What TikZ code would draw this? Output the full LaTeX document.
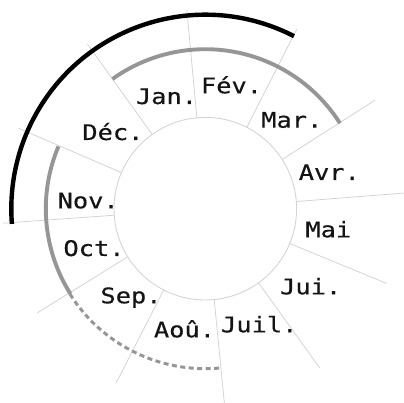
\documentclass[tikz,border=0pt]{standalone}
\usepackage{fontspec}
\usepackage{graphicx}
\usetikzlibrary{calc}
\newfontfamily\monolab[FakeBold=0.4]{DejaVu Sans Mono}
\newcommand\mlab[1]{\scalebox{1.18}[1]{#1}}
\definecolor{spokegray}{RGB}{212,212,212}
\definecolor{arcgray}{RGB}{150,150,150}
\definecolor{labelink}{RGB}{20,20,20}
\tikzset{
  spoke/.style={draw=spokegray, line width=0.8pt},
  hub/.style={draw=spokegray, line width=0.9pt},
  spanblack/.style={draw=black, line width=4.4pt},
  spangray/.style={draw=arcgray, line width=3.9pt},
  spandash/.style={draw=arcgray, line width=3pt, dash pattern=on 5pt off 3.5pt},
  month/.style={anchor=base, inner sep=0pt, text=labelink, font=\monolab\fontsize{21.5}{21.5}\selectfont},
}
\begin{document}
\begin{tikzpicture}[x=1pt,y=1pt]
\useasboundingbox (-205.3,-194.3) rectangle (198.7,208.7);
\coordinate (c) at (0,0);
% hub circle
\draw[hub] (c) circle[radius=91.3];
% spokes (angle / outer radius)
\foreach \a/\r in {95.3/199.6, 63.0/201.3, 32.6/201.5, 4.5/200, -22.4/196.1, -54.3/196.5,
                   -84.4/198, -117.1/196.1, -148.2/197.6, -175.9/202.5, 156.7/203.5, 125.6/202.6}
  \draw[spoke] ($(c)+(\a:91.3)$) -- ($(c)+(\a:\r)$);
% spans
\draw[spanblack] ($(c)+(62.8:194)$) arc[start angle=62.8, end angle=184.5, radius=194];
\draw[spangray] ($(c)+(32.4:159.5)$) arc[start angle=32.4, end angle=125.6, radius=159.5];
\draw[spangray] ($(c)+(157:159.5)$) arc[start angle=157, end angle=212.3, radius=159.5];
\draw[spandash] ($(c)+(212.3:160)$) arc[start angle=212.3, end angle=275.4, radius=160];
% month labels
\node[month] (jan) at (-38.8,104.7) {\mlab{Jan.}};
\node[month] (fev) at (26.2,115.4) {\mlab{Fév.}};
\node[month] (mar) at (86.5,81) {\mlab{Mar.}};
\node[month] (avr) at (124,28.7) {\mlab{Avr.}};
\node[month] (mai) at (123,-28.6) {\mlab{Mai}};
\node[month] (jui) at (105.4,-85.6) {\mlab{Jui.}};
\node[month] (juil) at (54,-123.6) {\mlab{Juil.}};
\node[month] (aou) at (-20.8,-128.6) {\mlab{Aoû.}};
\node[month] (sep) at (-74.3,-94.6) {\mlab{Sep.}};
\node[month] (oct) at (-111.3,-47.3) {\mlab{Oct.}};
\node[month] (nov) at (-117.1,0.4) {\mlab{Nov.}};
\node[month] (dec) at (-92.4,68.7) {\mlab{Déc.}};
\end{tikzpicture}
\end{document}
